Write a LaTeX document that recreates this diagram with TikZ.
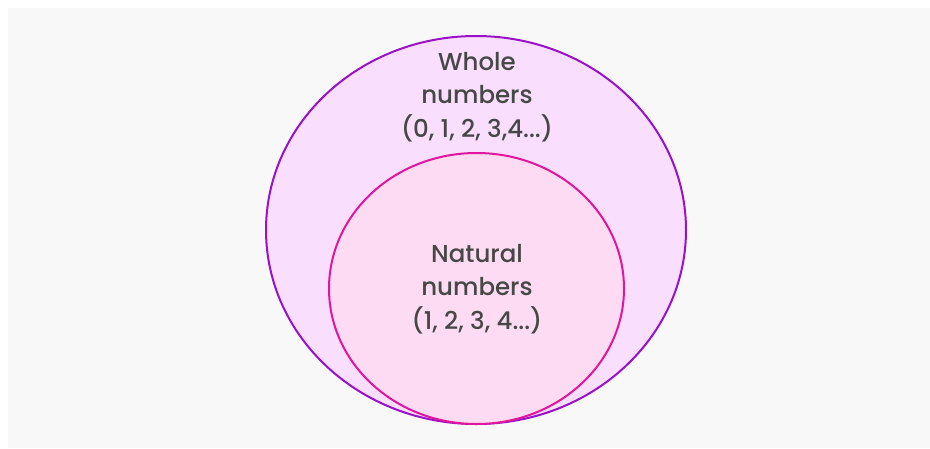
\documentclass[tikz,border=0pt]{standalone}
\usepackage{fontspec}
\setmainfont{Lato}
\newfontfamily\labelfont{Poppins Medium}
\usepackage{tikz}
\usetikzlibrary{shapes.geometric}

\definecolor{wholeline}{HTML}{9A12C6}
\definecolor{wholefill}{HTML}{F9DEFD}
\definecolor{natline}{HTML}{E0169C}
\definecolor{natfill}{HTML}{FDDCF3}
\definecolor{txtgray}{HTML}{474747}
\definecolor{bggray}{HTML}{F8F8F8}

\begin{document}
\begin{tikzpicture}[
    x=1pt, y=-1pt,
    setbox/.style={
        ellipse,
        draw=#1line,
        fill=#1fill,
        line width=2pt,
        inner sep=0pt
    },
    setlabel/.style={
        font=\labelfont\fontsize{24.5}{33.5}\selectfont,
        text=txtgray,
        align=center
    }
]

% canvas
\useasboundingbox (0,0) rectangle (930,448);
\fill[white] (0,0) rectangle (930,448);
\fill[bggray] (8,8) rectangle (930,448);

% outer set: whole numbers
\node[setbox=whole, minimum width=420pt, minimum height=388pt] (whole) at (476,230) {};
% inner set: natural numbers
\node[setbox=nat, minimum width=295pt, minimum height=271pt] (natural) at (476.5,288.5) {};

% labels
\node[setlabel] (wholelbl) at (477,97) {Whole\\numbers\\(0, 1, 2, 3,4...)};
\node[setlabel] (natlbl) at (477,289) {Natural\\numbers\\(1, 2, 3, 4...)};

\end{tikzpicture}
\end{document}
